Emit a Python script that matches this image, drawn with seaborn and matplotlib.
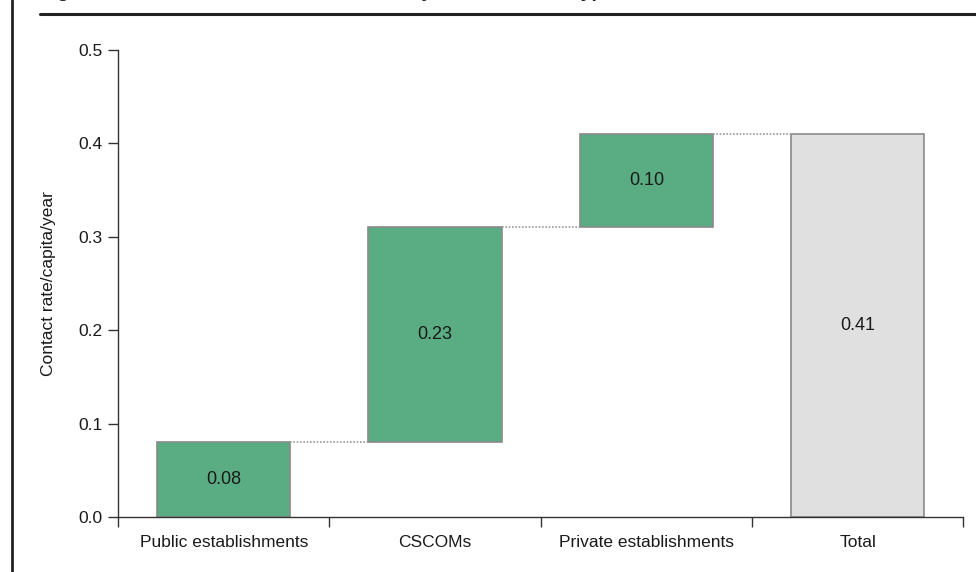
import numpy as np
import matplotlib
matplotlib.use('Agg')
import matplotlib.pyplot as plt
import seaborn as sns
from matplotlib.lines import Line2D
from matplotlib.ticker import FixedLocator, FormatStrFormatter

sns.set_theme(style='white')
plt.rcParams['font.family'] = ['Liberation Sans', 'DejaVu Sans']

# Data
categories = ['Public establishments', 'CSCOMs', 'Private establishments', 'Total']
values = [0.08, 0.23, 0.10, 0.41]
is_total = [False, False, False, True]

# Waterfall bases: running sum for steps, zero for the total
bases = []
running = 0.0
for v, tot in zip(values, is_total):
    if tot:
        bases.append(0.0)
    else:
        bases.append(running)
        running += v

green = '#5aac82'
grey_fill = '#e0e0e0'
edge = '#8a8a8a'
colors = [grey_fill if t else green for t in is_total]
bar_width = 0.63

fig = plt.figure(figsize=(9.76, 5.72), dpi=100)
ax = fig.add_axes([0.121, 0.096, 0.866, 0.817])

sns.barplot(x=categories, y=values, bottom=bases, width=bar_width,
            color=green, edgecolor=edge, linewidth=1.2, ax=ax, saturation=1)
for patch, c in zip(ax.patches, colors):
    patch.set_facecolor(c)

# Connector lines between consecutive bars
for i in range(len(categories) - 1):
    level = bases[i] + values[i]
    ax.plot([i + bar_width / 2, i + 1 - bar_width / 2], [level, level],
            linestyle=(0, (1, 1)), color='#9a9a9a', linewidth=1.2)

# Value labels centred in bars
for i, (b, v) in enumerate(zip(bases, values)):
    ax.text(i, b + v / 2, f'{v:.2f}', ha='center', va='center',
            fontsize=13, color='#1a1a1a')

ax.set_xlim(-0.5, len(categories) - 0.5)
ax.set_ylim(0, 0.5)
ax.set_yticks(np.arange(0, 0.51, 0.1))
ax.yaxis.set_major_formatter(FormatStrFormatter('%.1f'))

# boundary ticks on x, category labels as minor ticks
ax.xaxis.set_major_locator(FixedLocator(np.arange(-0.5, len(categories), 1.0)))
ax.set_xticklabels([''] * (len(categories) + 1))
ax.xaxis.set_minor_locator(FixedLocator(np.arange(len(categories))))
ax.set_xticklabels(categories, minor=True)
ax.tick_params(axis='x', which='minor', bottom=True, length=0, pad=13,
               labelsize=12.5, labelcolor='#1a1a1a')
ax.tick_params(axis='x', which='major', bottom=True, length=7, width=1,
               color='#333333', direction='out')
ax.tick_params(axis='y', left=True, length=7, width=1, color='#333333', direction='out',
               labelsize=12.5, labelcolor='#1a1a1a', pad=4)

ax.set_xlabel('')
ax.set_ylabel('Contact rate/capita/year', fontsize=12.5, color='#1a1a1a', labelpad=16)

sns.despine(ax=ax)
for s in ['left', 'bottom']:
    ax.spines[s].set_color('#333333')
    ax.spines[s].set_linewidth(1)

# page frame: left border and title rule, title mostly cut off above
fig.add_artist(Line2D([0.0123, 0.0123], [0, 1], color='#222222', linewidth=2))
fig.add_artist(Line2D([0.041, 1.0], [0.976, 0.976], color='#222222', linewidth=2.2))
fig.text(0.041, 1.006, 'Figure 5: Contact rate for curative care, by establishment type',
         fontsize=14, fontweight='bold', color='#222222', va='baseline', ha='left',
         family=['Liberation Sans', 'DejaVu Sans'])

fig.savefig('out.png', dpi=100)
